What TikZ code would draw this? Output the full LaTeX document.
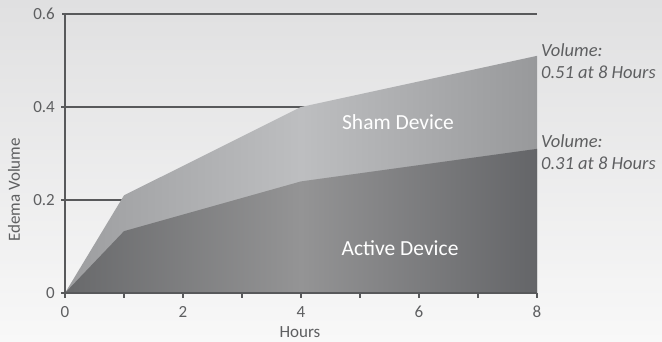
\documentclass[tikz,border=0pt]{standalone}
\usepackage{fontspec}
\setmainfont{Carlito}
\definecolor{bgtop}{HTML}{E0E0E1}
\definecolor{bgbot}{HTML}{F8F8F8}
\definecolor{axiscol}{HTML}{58595B}
\definecolor{txtcol}{HTML}{5E5F61}
\definecolor{shamL}{HTML}{9C9D9F}
\definecolor{shamM}{HTML}{BDBEC0}
\definecolor{shamR}{HTML}{98999B}
\definecolor{actL}{HTML}{68696B}
\definecolor{actM}{HTML}{949495}
\definecolor{actR}{HTML}{646568}
\tikzset{
  axisline/.style={draw=axiscol, line width=1.6pt},
  tickline/.style={draw=axiscol, line width=1.4pt},
  ticklabel/.style={text=txtcol, font=\fontsize{17}{20}\selectfont, inner sep=0pt},
  arealabel/.style={text=white, font=\fontsize{21.5}{25}\selectfont, inner sep=0pt, anchor=base},
  notelabel/.style={text=txtcol, font=\itshape\fontsize{18.5}{22}\selectfont, inner sep=0pt, anchor=base west},
}
\begin{document}
\begin{tikzpicture}[x=1pt,y=1pt]
\shade[top color=bgtop, bottom color=bgbot] (0,0) rectangle (662,342);
\path[use as bounding box] (0,0) rectangle (662,342);
\begin{scope}[shift={(65pt,49pt)}, x=59pt, y=465pt]
  % grid lines (behind areas)
  \draw[axisline] (0,0.2) -- (8,0.2);
  \draw[axisline] (0,0.4) -- (8,0.4);
  \draw[axisline] (-3pt,0.6) -- (8,0.6);
  \draw[tickline] (-4pt,0.2) -- (0,0.2);
  \draw[tickline] (-4pt,0.4) -- (0,0.4);
  \draw[tickline] (-4pt,0) -- (0,0);
  % areas
  \shade[left color=shamL, right color=shamR, middle color=shamM]
    (0,0) -- (1,0.21) -- (4,0.40) -- (8,0.51) -- (8,0) -- cycle;
  \shade[left color=actL, right color=actR, middle color=actM]
    (0,0) -- (1,0.133) -- (4,0.24) -- (8,0.31) -- (8,0) -- cycle;
  % axes
  \draw[axisline] (0,0.6) -- (0,0) -- (8,0);
  \foreach \i in {0,...,8} \draw[tickline] (\i,0) -- ++(0pt,-5pt);
  % tick labels
  \foreach \i in {0,2,4,6,8}
    \node[ticklabel, anchor=base] (xl\i) at ([yshift=-25pt]\i,0) {\i};
  \node[ticklabel, anchor=base east] (yl0) at ([xshift=-10pt,yshift=-6pt]0,0) {0};
  \node[ticklabel, anchor=base east] (yl2) at ([xshift=-10pt,yshift=-6pt]0,0.2) {0.2};
  \node[ticklabel, anchor=base east] (yl4) at ([xshift=-10pt,yshift=-6pt]0,0.4) {0.4};
  \node[ticklabel, anchor=base east] (yl6) at ([xshift=-10pt,yshift=-6pt]0,0.6) {0.6};
\end{scope}
\node[ticklabel, anchor=base] (hours) at (300,4) {Hours};
\node[ticklabel, rotate=90] (edema) at (14,152) {Edema Volume};
\node[arealabel] (sham) at (398,212) {Sham Device};
\node[arealabel] (active) at (400,86) {Active Device};
\node[notelabel] (v1) at (541,285) {Volume:};
\node[notelabel] (v1b) at (541,263) {0.51 at 8 Hours};
\node[notelabel] (v2) at (541,194) {Volume:};
\node[notelabel] (v2b) at (541,172) {0.31 at 8 Hours};
\end{tikzpicture}
\end{document}
